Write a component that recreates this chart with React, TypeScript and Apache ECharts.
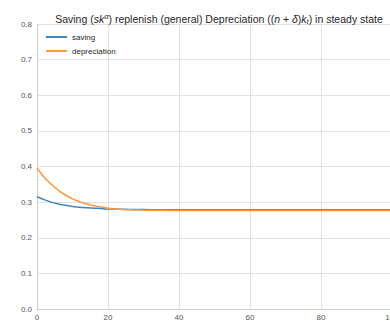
import React, { useEffect, useRef } from "react";
import * as echarts from "echarts";

const tValues = [0, 2, 4, 6, 8, 10, 12, 14, 16, 18, 20, 22, 24, 26, 28, 30, 35, 40, 50, 60, 70, 80, 90, 100];
const savingValues = [0.315, 0.307, 0.300, 0.295, 0.291, 0.288, 0.2855, 0.284, 0.283, 0.282, 0.281, 0.2805, 0.280, 0.2795, 0.279, 0.279, 0.2785, 0.2785, 0.2785, 0.2785, 0.2785, 0.2785, 0.2785, 0.2785];
const deprValues = [0.395, 0.370, 0.350, 0.333, 0.320, 0.309, 0.301, 0.295, 0.290, 0.286, 0.283, 0.281, 0.2795, 0.2785, 0.278, 0.2775, 0.277, 0.2765, 0.2765, 0.2765, 0.2765, 0.2765, 0.2765, 0.2765];
const xTicks = [0, 20, 40, 60, 80, 100];
const yTicks = [0, 0.1, 0.2, 0.3, 0.4, 0.5, 0.6, 0.7, 0.8];

export default function App() {
  const ref = useRef<HTMLDivElement>(null);
  useEffect(() => {
    if (!ref.current) return;
    const chart = echarts.init(ref.current, null, { renderer: "svg" });
    const font = "Liberation Sans";
    chart.setOption({
      animation: false,
      backgroundColor: "#ffffff",
      textStyle: { fontFamily: font },
      title: {
        text: "Saving ({i|sk}{sup|α}) replenish (general) Depreciation (({i|n} + {i|δ}){i|k}{sub|t}) in steady state",
        left: 214,
        textAlign: "center",
        top: 7,
        textStyle: {
          fontSize: 10.5,
          fontWeight: "normal",
          color: "#262626",
          fontFamily: font,
          rich: {
            i: { fontStyle: "italic", fontSize: 10.5, color: "#262626", fontFamily: font },
            sup: { fontStyle: "italic", fontSize: 7.5, color: "#262626", verticalAlign: "top", padding: [0, 0, 6, 0], fontFamily: font },
            sub: { fontStyle: "italic", fontSize: 7.5, color: "#262626", padding: [5, 0, 0, 0], fontFamily: font },
          },
        },
      },
      legend: {
        left: 41,
        top: 28,
        orient: "vertical",
        itemWidth: 21,
        itemHeight: 2,
        itemGap: 6,
        icon: "rect",
        textStyle: { fontSize: 8, color: "#262626", fontFamily: font },
        data: ["saving", "depreciation"],
      },
      grid: { left: 37, top: 24, width: 355, height: 285, containLabel: false, outerBoundsMode: "none" },
      xAxis: {
        type: "value",
        min: xTicks[0],
        max: xTicks[xTicks.length - 1],
        interval: 20,
        name: "t",
        nameLocation: "middle",
        nameGap: 17,
        nameTextStyle: { fontSize: 8, color: "#262626" },
        axisLine: { show: true, lineStyle: { color: "#cccccc", width: 1 } },
        axisTick: { show: false },
        axisLabel: { fontSize: 8, color: "#555555", margin: 4, showMaxLabel: true },
        splitLine: { show: true, lineStyle: { color: "#e2e2e2", width: 1 } },
      },
      yAxis: {
        type: "value",
        min: yTicks[0],
        max: yTicks[yTicks.length - 1],
        interval: 0.1,
        axisLine: { show: true, lineStyle: { color: "#cccccc", width: 1 } },
        axisTick: { show: false },
        axisLabel: { fontSize: 8, color: "#555555", margin: 5, formatter: (v: number) => v.toFixed(1) },
        splitLine: { show: true, lineStyle: { color: "#e2e2e2", width: 1 } },
      },
      series: [
        {
          name: "saving",
          type: "line",
          data: tValues.map((t, i) => [t, savingValues[i]]),
          smooth: 0.3,
          showSymbol: false,
          symbol: "none",
          lineStyle: { color: "#3f86c2", width: 1.5 },
          itemStyle: { color: "#3f86c2" },
        },
        {
          name: "depreciation",
          type: "line",
          data: tValues.map((t, i) => [t, deprValues[i]]),
          smooth: 0.3,
          showSymbol: false,
          symbol: "none",
          lineStyle: { color: "#ff9a3c", width: 1.5 },
          itemStyle: { color: "#ff9a3c" },
        },
      ],
    });
    return () => chart.dispose();
  }, []);
  return (
    <div style={{ position: "absolute", left: 0, top: 0, width: 390, height: 328, overflow: "hidden" }}>
      <div ref={ref} style={{ width: 400, height: 328 }} />
    </div>
  );
}
